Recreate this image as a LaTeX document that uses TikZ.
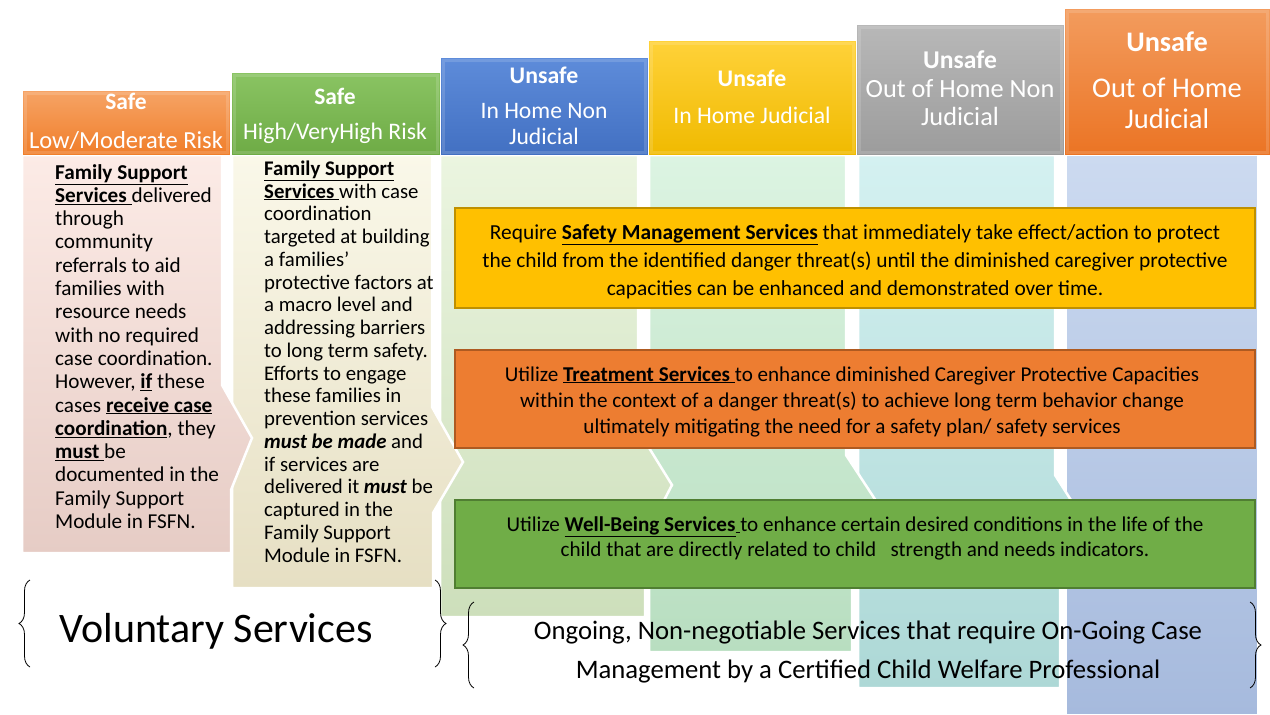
\documentclass[tikz,border=0pt]{standalone}
\usepackage{fontspec}
\setmainfont{Carlito}
\usetikzlibrary{decorations.pathreplacing}

\definecolor{hdorange}{HTML}{F07E2A}
\definecolor{hdorangeL}{HTML}{F6A466}
\definecolor{hdgreen}{HTML}{6EAB45}
\definecolor{hdgreenL}{HTML}{8AC463}
\definecolor{hdblue}{HTML}{4270C2}
\definecolor{hdblueL}{HTML}{5E8CDA}
\definecolor{hdyellow}{HTML}{F0BA00}
\definecolor{hdyellowL}{HTML}{FFD23A}
\definecolor{hdgray}{HTML}{9C9C9C}
\definecolor{hdgrayL}{HTML}{B8B8B8}
\definecolor{hdorangeB}{HTML}{EB7424}
\definecolor{hdorangeBL}{HTML}{F39C5E}
% pale column bodies
\definecolor{pinkT}{HTML}{FCEBE6}\definecolor{pinkB}{HTML}{E6CCC5}
\definecolor{creamT}{HTML}{FAF8E9}\definecolor{creamB}{HTML}{E6DFC3}
\definecolor{lgreenT}{HTML}{EBF5E0}\definecolor{lgreenB}{HTML}{CDDFBB}
\definecolor{mintT}{HTML}{DCF4E2}\definecolor{mintB}{HTML}{B8DEC0}
\definecolor{cyanT}{HTML}{D4F1F1}\definecolor{cyanB}{HTML}{ADD8D6}
\definecolor{pblueT}{HTML}{CCDAF0}\definecolor{pblueB}{HTML}{A6BADD}
% service boxes
\definecolor{boxyellow}{HTML}{FFC000}\definecolor{boxyellowD}{HTML}{BF9000}
\definecolor{boxorange}{HTML}{ED7D31}\definecolor{boxorangeD}{HTML}{AE5A21}
\definecolor{boxgreen}{HTML}{70AD47}\definecolor{boxgreenD}{HTML}{507E32}

\newcommand{\fsz}[2]{\fontsize{#1}{#2}\selectfont}
\newcommand{\ulb}[1]{\underline{\textbf{#1}}}

\tikzset{
  colbody/.style={draw=white, line width=2.5pt},
  hdr/.style={draw=white, line width=0.8pt},
  bevel/.style={draw=white, opacity=0.14, line width=3pt},
  hdtitle/.style={text=white, anchor=base, inner sep=0pt},
  bodytext/.style={anchor=north west, align=left, inner sep=0pt, font=\fsz{21.2}{23.3}},
  svcbox/.style={line width=2pt},
  svctext/.style={anchor=north, align=center, inner sep=0pt},
  brc/.style={decorate, decoration={brace, amplitude=11pt}, line width=0.8pt},
}

\begin{document}
\begin{tikzpicture}[x=1pt,y=-1pt]
\useasboundingbox (0,0) rectangle (1270,715);

% column bodies, drawn right to left
\draw[colbody, top color=pblueT, bottom color=pblueB] (1066,155) -- (1258,155) -- (1258,715) -- (1066,715) -- cycle;
\draw[colbody, top color=cyanT, bottom color=cyanB] (858,155) -- (1055,155) -- (1055,475) -- (1090,530) -- (1060,582) -- (1060,688) -- (858,688) -- cycle;
\draw[colbody, top color=mintT, bottom color=mintB] (649,155) -- (846,155) -- (846,455) -- (882,510) -- (852,562) -- (852,652) -- (649,652) -- cycle;
\draw[colbody, top color=lgreenT, bottom color=lgreenB] (440,155) -- (638,155) -- (638,430) -- (672,485) -- (645,537) -- (645,617) -- (440,617) -- cycle;
\draw[colbody, top color=creamT, bottom color=creamB] (232,155) -- (432,155) -- (432,407) -- (463,462) -- (433,513) -- (433,588) -- (232,588) -- cycle;
\draw[colbody, top color=pinkT, bottom color=pinkB] (22,155) -- (222,155) -- (222,385) -- (252,438) -- (231,490) -- (231,553) -- (22,553) -- cycle;

% headers
\draw[hdr, top color=hdorangeL, bottom color=hdorange] (22,90) rectangle (230,155);
\draw[bevel] (25,93) rectangle (227,152);
\draw[hdr, top color=hdgreenL, bottom color=hdgreen] (231,72) rectangle (440,155);
\draw[bevel] (234,75) rectangle (437,152);
\draw[hdr, top color=hdblueL, bottom color=hdblue] (440,57) rectangle (648,155);
\draw[bevel] (443,60) rectangle (645,152);
\draw[hdr, top color=hdyellowL, bottom color=hdyellow] (648,40) rectangle (856,155);
\draw[bevel] (651,43) rectangle (853,152);
\draw[hdr, top color=hdgrayL, bottom color=hdgray] (856,24) rectangle (1064,155);
\draw[bevel] (859,27) rectangle (1061,152);
\draw[hdr, top color=hdorangeBL, bottom color=hdorangeB] (1064,8) rectangle (1270,155);
\draw[bevel] (1067,11) rectangle (1267,152);

\node[hdtitle, font=\bfseries\fsz{23.5}{28}] (safeA) at (126,109) {Safe};
\node[hdtitle, font=\fsz{24.5}{28}] (lowrisk) at (126,148) {Low/Moderate Risk};
\node[hdtitle, font=\bfseries\fsz{23.5}{28}] (safeB) at (335,104) {Safe};
\node[hdtitle, font=\fsz{23.7}{28}] (highrisk) at (335,139) {High/VeryHigh Risk};
\node[hdtitle, font=\bfseries\fsz{23.8}{28}] (unsafeA) at (544,83) {Unsafe};
\node[hdtitle, font=\fsz{23.6}{28}] (inhomeA) at (544,118) {In Home Non};
\node[hdtitle, font=\fsz{23.6}{28}] (judA) at (544,144) {Judicial};
\node[hdtitle, font=\bfseries\fsz{23.8}{28}] (unsafeB) at (752,86) {Unsafe};
\node[hdtitle, font=\fsz{23.7}{28}] (inhomeB) at (752,123) {In Home Judicial};
\node[hdtitle, font=\bfseries\fsz{25.6}{28}] (unsafeC) at (960,68) {Unsafe};
\node[hdtitle, font=\fsz{26.3}{28}] (outhomeA) at (960,97) {Out of Home Non};
\node[hdtitle, font=\fsz{26.3}{28}] (judC) at (960,125) {Judicial};
\node[hdtitle, font=\bfseries\fsz{28.3}{30}] (unsafeD) at (1167,51) {Unsafe};
\node[hdtitle, font=\fsz{28.5}{30}] (outhomeB) at (1167,97) {Out of Home};
\node[hdtitle, font=\fsz{28.5}{30}] (judD) at (1167,128) {Judicial};

% column texts
\node[bodytext] (lowtext) at (55,164) {\ulb{Family Support}\\
  \ulb{Services}\underline{\ }delivered\\ through\\ community\\ referrals to aid\\
  families with\\ resource needs\\ with no required\\ case coordination.\\
  However, \ulb{if} these\\ cases \ulb{receive case}\\ \ulb{coordination}, they\\
  \ulb{must}\underline{\ }be\\ documented in the\\ Family Support\\ Module in FSFN.};
\node[bodytext, font=\fsz{20.8}{22.75}] (hightext) at (264,160.5) {\ulb{Family Support}\\
  \ulb{Services}\underline{\ }with case\\ coordination\\ targeted at building\\
  a families’\\ protective factors at\\ a macro level and\\ addressing barriers\\
  to long term safety.\\ Efforts to engage\\ these families in\\ prevention services\\
  \textbf{\textit{must be made}} and\\ if services are\\ delivered it \textbf{\textit{must}} be\\
  captured in the\\ Family Support\\ Module in FSFN.};

% service boxes
\draw[svcbox, draw=boxyellowD, fill=boxyellow] (455,208) rectangle (1255,308);
\node[svctext, font=\fsz{21.4}{28}] (safety) at (855,224) {Require \ulb{Safety Management Services} that immediately take effect/action to protect\\
  the child from the identified danger threat(s) until the diminished caregiver protective\\
  capacities can be enhanced and demonstrated over time.};
\draw[svcbox, draw=boxorangeD, fill=boxorange] (455,350) rectangle (1255,448);
\node[svctext, font=\fsz{21.1}{26}] (treatment) at (852,366) {Utilize \ulb{Treatment Services}\underline{\ }to enhance diminished Caregiver Protective Capacities\\
  within the context of a danger threat(s) to achieve long term behavior change\\
  ultimately mitigating the need for a safety plan/ safety services};
\draw[svcbox, draw=boxgreenD, fill=boxgreen] (455,500) rectangle (1255,588);
\node[svctext, font=\fsz{21.1}{25}] (wellbeing) at (855,516) {Utilize \ulb{Well-Being Services}\underline{\ }to enhance certain desired conditions in the life of the\\
  child that are directly related to child\ \ \ strength and needs indicators.};

% bottom braces and labels
\draw[brc] (30,667) -- (30,580);
\draw[brc] (435,580) -- (435,667);
\node[anchor=base, inner sep=0pt, font=\fsz{42}{50}] (voluntary) at (216,642) {Voluntary Services};
\draw[brc] (474,688) -- (474,602);
\draw[brc] (1250,602) -- (1250,688);
\node[svctext, font=\fsz{26.7}{39}] (ongoing) at (868,620.5) {Ongoing, Non-negotiable Services that require On-Going Case\\
  Management by a Certified Child Welfare Professional};

\end{tikzpicture}
\end{document}
